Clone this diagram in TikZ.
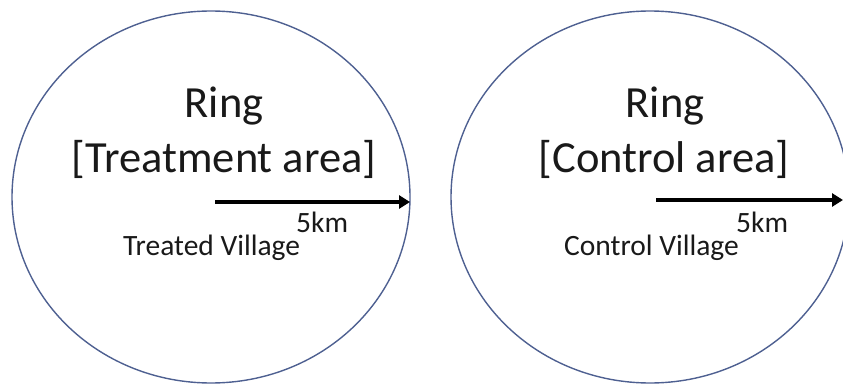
\documentclass[tikz,border=0pt]{standalone}
\usepackage{fontspec}
\setmainfont{Carlito}
\usetikzlibrary{arrows.meta,shapes.geometric}
\definecolor{ringblue}{RGB}{78,96,145}
\definecolor{txt}{RGB}{25,25,25}
\begin{document}
\begin{tikzpicture}[x=1pt,y=-1pt,
  ringshape/.style={draw=ringblue,line width=1.4pt,ellipse,inner sep=0pt,minimum width=398pt,minimum height=372pt},
  bigtxt/.style={font=\fontsize{44.5}{48}\selectfont,text=txt,inner sep=0pt,anchor=base},
  smalltxt/.style={font=\fontsize{29.5}{32}\selectfont,text=txt,inner sep=0pt,anchor=base west},
  radius/.style={line width=4pt,-{Triangle[length=11pt,width=13pt]}}]
\useasboundingbox (0,0) rectangle (843,385);
\begin{scope}
\clip (0,0) rectangle (843,385);
\node[ringshape] (ringL) at (211,197) {};
\node[ringshape] (ringR) at (650,197) {};
\end{scope}
\node[bigtxt] (ringLa) at (224,118) {Ring};
\node[bigtxt] (ringLb) at (224,172) {[Treatment area]};
\node[bigtxt] (ringRa) at (665,118) {Ring};
\node[bigtxt] (ringRb) at (664,172) {[Control area]};
\node[smalltxt] (kmL) at (296,232) {5km};
\node[smalltxt] (villL) at (123,255) {Treated Village};
\node[smalltxt] (kmR) at (736,232) {5km};
\node[smalltxt] (villR) at (564,255) {Control Village};
\coordinate (aLs) at (215,202);
\coordinate (aLe) at (410,202);
\coordinate (aRs) at (656,200);
\coordinate (aRe) at (843,200);
\draw[radius] (aLs) -- (aLe);
\draw[radius] (aRs) -- (aRe);
\end{tikzpicture}
\end{document}
